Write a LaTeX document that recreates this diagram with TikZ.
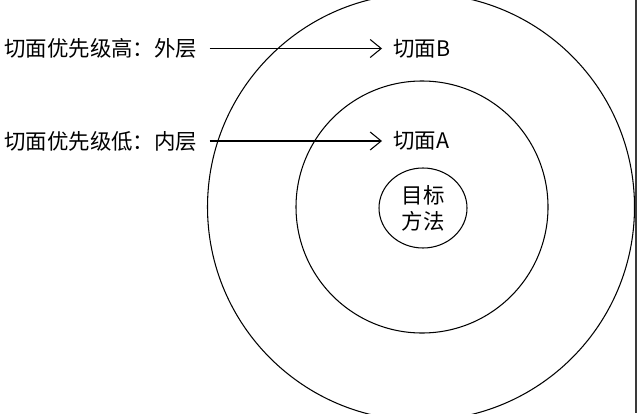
\documentclass[tikz,border=0pt]{standalone}
\usepackage{fontspec}
\setmainfont{Noto Sans CJK SC}
\usetikzlibrary{arrows.meta,positioning,shapes.geometric}
\definecolor{edgegray}{HTML}{3A3A3A}
\begin{document}
\begin{tikzpicture}[
  lbl/.style={inner sep=0.1cm,font=\fontsize{12.2}{14.8}\selectfont},
  ring/.style={circle,draw,line width=0.6pt,inner sep=0pt},
  a/.style={-{Straight Barb[length=2.2mm,width=3.6mm]},line width=0.6pt,
    shorten <=0.14cm,shorten >=0.12cm}]
\clip (0,0) rectangle (12.74,-8.26);
\useasboundingbox (0,0) rectangle (12.74,-8.26);
\node[ring,minimum size=8.54cm] (outer) at (8.42,-4.14) {};
\node[ring,minimum size=5.04cm] (inner) at (8.44,-4.14) {};
\node[ellipse,draw,line width=0.6pt,minimum width=1.76cm,minimum height=1.6cm,
  inner sep=0pt,align=center,font=\fontsize{12.2}{14.8}\selectfont] (target) at (8.46,-4.16)
  {目标\\方法};
\node[lbl,anchor=west] (high) at (-0.02,-0.97) {切面优先级高：外层};
\node[lbl,anchor=west] (low) at (-0.02,-2.82) {切面优先级低：内层};
\node[lbl,anchor=west] (cutb) at (7.76,-0.97) {切面B};
\node[lbl,anchor=west] (cuta) at (7.76,-2.82) {切面A};
\draw[a] (high.east) -- (cutb.west);
\draw[a] (low.east) -- (cuta.west);
\coordinate (rtop) at (12.72,0);
\coordinate (rbot) at (12.72,-8.26);
\draw[edgegray,line width=0.6pt] (rtop) -- (rbot);
\end{tikzpicture}
\end{document}
